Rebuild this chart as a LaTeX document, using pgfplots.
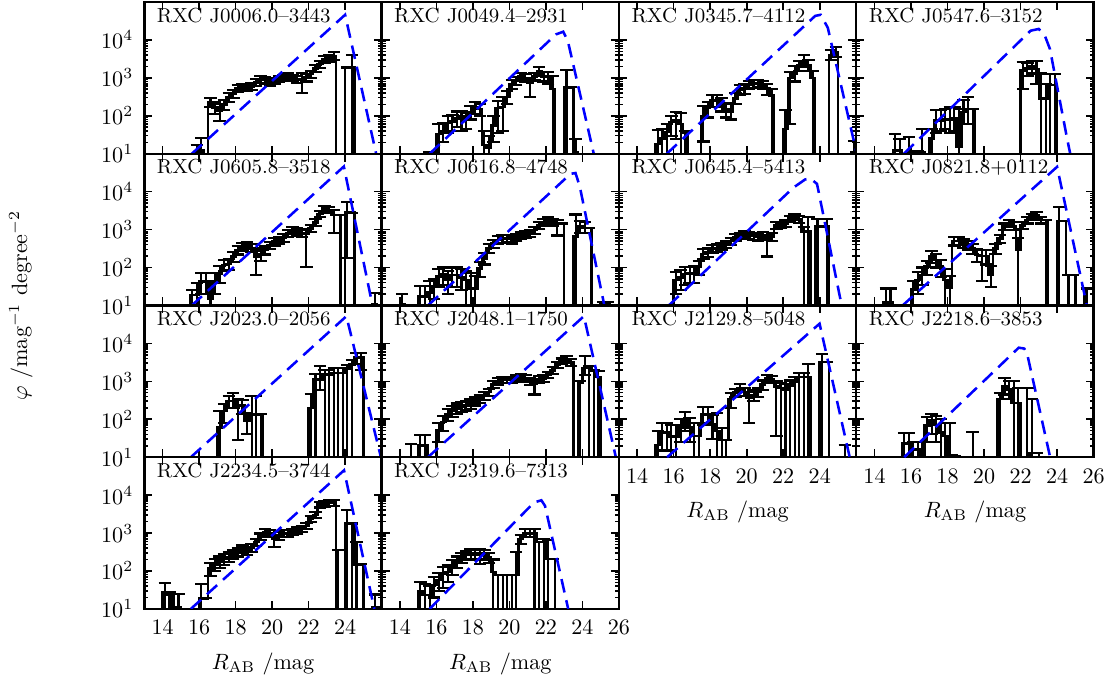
\documentclass[border=0pt]{standalone}
\usepackage{fontspec}
\usepackage{pgfplots}
\pgfplotsset{compat=1.18}
\usepackage{pgfplotstable}
\usepgfplotslibrary{groupplots}

% columns: e = bin left edge, y = value (1 = empty bin), lo/hi = error bar ends
\pgfplotstableread{
e y lo hi
15.50 1 1 1
15.75 11 9.5 17
16.00 12 9.5 26
16.25 1 1 1
16.50 228 170 300
16.75 165 110 230
17.00 135 72 200
17.25 200 140 260
17.50 310 230 400
17.75 375 290 470
18.00 530 420 650
18.25 600 480 700
18.50 560 440 680
18.75 600 480 720
19.00 760 600 920
19.25 930 750 1100
19.50 870 700 1050
19.75 760 600 920
20.00 840 680 1000
20.25 930 760 1100
20.50 1020 830 1220
20.75 1100 900 1300
21.00 1000 820 1200
21.25 930 750 1120
21.50 870 400 1330
21.75 1020 800 1250
22.00 1250 1000 1500
22.25 1780 1400 2150
22.50 2300 1850 2800
22.75 3100 2500 3700
23.00 3400 2700 4100
23.25 3800 3000 4850
23.50 1 1 1
24.00 1880 1880 1880
24.25 1880 9.5 4000
24.50 1 1 1
24.75 1 1 1
}\tA
\pgfplotstableread{
e y lo hi
15.25 1 1 1
15.50 10.5 9.5 11
15.75 1 1 1
16.00 33 9.5 61
16.25 40 20 65
16.50 65 35 100
16.75 70 40 105
17.00 85 50 130
17.25 100 40 135
17.50 85 45 120
17.75 125 80 180
18.00 165 110 230
18.25 150 100 210
18.50 17 9.5 40
18.75 14 9.5 30
19.00 55 20 100
19.25 160 35 250
19.50 170 40 310
19.75 310 200 450
20.00 690 520 900
20.25 840 650 1050
20.50 1100 880 1350
20.75 1000 780 1250
21.00 730 310 1000
21.25 1100 850 1350
21.50 1450 1150 1900
21.75 1100 800 1400
22.00 1100 700 1400
22.25 510 9.5 1100
22.50 1 1 1
23.00 560 9.5 1650
23.25 560 560 560
23.50 11 9.5 25
23.75 1 1 1
24.00 1 1 1
}\tB
\pgfplotstableread{
e y lo hi
14.75 1 1 1
15.00 18 9.5 43
15.25 25 9.5 45
15.50 37 9.5 60
15.75 68 30 100
16.00 75 25 125
16.25 60 9.5 120
16.50 35 9.5 40
16.75 1 1 1
17.50 100 21 180
17.75 160 90 230
18.00 250 170 350
18.25 250 170 350
18.50 200 130 290
18.75 150 90 220
19.00 130 80 200
19.25 290 200 390
19.50 500 350 650
19.75 520 380 680
20.00 650 500 820
20.25 700 540 880
20.50 730 560 900
20.75 650 500 820
21.00 520 350 700
21.25 340 9.5 500
21.50 1 1 1
22.00 45 9.5 140
22.25 1000 60 1400
22.50 1250 800 2100
22.75 2100 1500 2800
23.00 2600 1900 4000
23.25 2200 1500 3000
23.50 1000 9.5 1550
23.75 1 1 1
24.50 4000 3000 5500
24.75 4800 3500 6500
25.00 1 1 1
25.75 11 9.5 22
26.00 1 1 1
}\tC
\pgfplotstableread{
e y lo hi
14.75 1 1 1
15.00 12 9.5 33
15.25 12 9.5 25
15.50 1 1 1
15.75 11 9.5 27
16.00 11 9.5 11
16.25 11 9.5 12
16.50 11 9.5 45
16.75 1 1 1
17.00 25 9.5 45
17.25 75 35 145
17.50 75 40 145
17.75 79 45 150
18.00 79 35 167
18.25 85 40 170
18.50 15 9.5 150
18.75 125 60 260
19.00 150 60 310
19.25 150 9.5 150
19.50 1 1 1
22.00 1550 510 2600
22.25 1750 1100 2500
22.50 2000 1300 2800
22.75 1700 700 2800
23.00 290 9.5 1300
23.25 290 9.5 700
23.50 650 9.5 1260
23.75 650 9.5 1260
24.00 1 1 1
24.25 1 1 1
}\tD
\pgfplotstableread{
e y lo hi
15.25 1 1 1
15.50 19 9.5 25
15.75 19 9.5 40
16.00 43 20 70
16.25 43 20 70
16.50 15 9.5 43
16.75 43 20 70
17.00 70 40 110
17.25 117 80 160
17.50 125 85 170
17.75 194 140 250
18.00 290 220 370
18.25 350 270 440
18.50 390 310 480
18.75 330 260 420
19.00 194 64 280
19.25 230 150 320
19.50 290 220 370
19.75 390 300 480
20.00 480 380 600
20.25 520 410 640
20.50 610 480 750
20.75 800 640 980
21.00 970 780 1200
21.25 870 700 1100
21.50 800 640 1000
21.75 800 105 1050
22.00 1070 850 1300
22.25 1550 1250 1900
22.50 2600 2100 3100
22.75 3600 2900 4200
23.00 3300 2700 4000
23.25 2400 800 3200
23.50 2400 2400 2400
23.75 1 1 1
24.00 2800 180 5400
24.25 2800 2800 2800
24.50 1 1 1
25.50 11 9.5 21
25.75 1 1 1
}\tE
\pgfplotstableread{
e y lo hi
13.75 1 1 1
14.00 11 9.5 20
14.25 1 1 1
15.00 17 9.5 33
15.25 17 9.5 33
15.50 22 9.5 43
15.75 32 15 50
16.00 58 30 90
16.25 68 35 100
16.50 47 20 80
16.75 64 30 100
17.00 64 30 100
17.25 55 25 90
17.50 47 9.5 80
17.75 28 9.5 70
18.00 28 9.5 60
18.25 95 55 140
18.50 175 120 240
18.75 320 240 410
19.00 430 330 540
19.25 530 420 660
19.50 580 450 720
19.75 600 480 730
20.00 560 430 700
20.25 620 490 760
20.50 700 560 850
20.75 750 600 920
21.00 800 640 980
21.25 970 780 1180
21.50 1300 1050 1550
21.75 1550 1250 1850
22.00 1780 1450 2100
22.25 1550 1250 1850
22.50 1450 700 1800
22.75 1450 1450 1450
23.00 1 1 1
23.50 650 9.5 2500
23.75 1200 800 1700
24.00 1100 800 1600
24.25 1100 1100 1100
24.50 1 1 1
25.00 11 9.5 12
25.25 11 9.5 12
25.50 1 1 1
}\tF
\pgfplotstableread{
e y lo hi
15.75 1 1 1
16.00 47 20 75
16.25 55 25 85
16.50 68 35 105
16.75 70 40 105
17.00 72 40 110
17.25 105 65 150
17.50 230 170 300
17.75 250 190 320
18.00 310 240 390
18.25 330 260 410
18.50 360 290 440
18.75 400 320 490
19.00 500 400 610
19.25 620 500 750
19.50 690 560 830
19.75 750 610 900
20.00 700 570 850
20.25 670 540 810
20.50 640 510 780
20.75 700 570 850
21.00 530 195 720
21.25 650 500 800
21.50 1300 1050 1550
21.75 1350 1100 1600
22.00 1450 1150 1750
22.25 1950 1600 2300
22.50 2200 1800 2600
22.75 1900 1500 2300
23.00 880 9.5 1200
23.25 880 9.5 2200
23.50 1 1 1
23.75 1200 9.5 1900
24.00 1200 1200 1200
24.25 1200 9.5 1900
24.50 1 1 1
}\tG
\pgfplotstableread{
e y lo hi
14.25 1 1 1
14.50 12 9.5 28
14.75 12 9.5 28
15.00 1 1 1
16.00 26 9.5 45
16.25 47 20 75
16.50 64 35 100
16.75 105 65 150
17.00 195 135 270
17.25 158 100 230
17.50 105 55 160
17.75 47 9.5 90
18.00 30 9.5 60
18.25 500 380 640
18.50 500 390 630
18.75 430 330 550
19.00 380 290 490
19.25 320 230 420
19.50 215 140 300
19.75 200 44 290
20.00 200 120 290
20.25 66 30 110
20.50 320 230 420
20.75 580 450 720
21.00 1200 950 1450
21.25 1450 1150 1750
21.50 1260 1000 1550
21.75 290 9.5 600
22.00 1300 1050 1600
22.25 1780 1450 2150
22.50 2200 1800 2600
22.75 2400 1950 2850
23.00 1780 1450 2150
23.25 1780 9.5 1780
23.50 1 1 1
24.00 1700 9.5 4000
24.25 1700 1700 1700
24.50 64 9.5 64
24.75 64 64 64
25.00 1 1 1
25.50 28 9.5 28
25.75 28 28 28
26.00 1 1 1
}\tH
\pgfplotstableread{
e y lo hi
16.75 1 1 1
17.00 60 9.5 165
17.25 165 80 250
17.50 300 200 400
17.75 300 200 480
18.00 230 28 350
18.25 230 140 330
18.50 90 40 150
18.75 135 9.5 410
19.00 135 9.5 410
19.25 135 9.5 135
19.50 1 1 1
22.00 200 9.5 470
22.25 1100 9.5 1600
22.50 1100 600 2600
22.75 1500 9.5 2000
23.00 1500 9.5 2000
23.25 1670 9.5 2200
23.50 1670 9.5 2200
23.75 1670 9.5 2200
24.00 2100 9.5 2700
24.25 2800 9.5 3600
24.50 4300 2800 5600
24.75 4300 2000 5600
25.00 1 1 1
}\tI
\pgfplotstableread{
e y lo hi
14.50 6 5.5 22
14.75 1 1 1
15.00 20 9.5 38
15.25 20 9.5 38
15.50 1 1 1
16.00 51 25 80
16.25 85 50 125
16.50 135 90 190
16.75 165 115 225
17.00 190 135 260
17.25 215 155 290
17.50 230 170 300
17.75 260 190 340
18.00 300 230 380
18.25 345 270 430
18.50 410 320 510
18.75 520 410 640
19.00 820 660 1000
19.25 1000 800 1220
19.50 1100 900 1330
19.75 1100 900 1330
20.00 1100 900 1330
20.25 1200 980 1450
20.50 1350 1100 1600
20.75 1200 980 1450
21.00 1000 800 1220
21.25 880 450 1100
21.50 1100 880 1350
21.75 1200 950 1450
22.00 1500 1200 1800
22.25 1950 1600 2350
22.50 2800 2300 3300
22.75 3400 2800 4000
23.00 3900 3200 4600
23.25 3100 2500 3800
23.50 1 1 1
23.75 910 9.5 1000
24.00 2250 1500 4600
24.25 2250 9.5 2500
24.50 1850 9.5 2000
24.75 1300 9.5 1850
25.00 1 1 1
}\tJ
\pgfplotstableread{
e y lo hi
14.75 1 1 1
15.00 21 9.5 49
15.25 44 15 81
15.50 44 15 81
15.75 35 9.5 70
16.00 35 9.5 70
16.25 60 25 100
16.50 95 50 158
16.75 60 25 110
17.00 36 9.5 80
17.25 36 9.5 80
17.50 135 70 215
17.75 135 70 215
18.00 73 30 130
18.25 49 9.5 150
18.50 28 9.5 60
18.75 28 9.5 28
19.00 345 200 500
19.25 500 380 640
19.50 670 520 830
19.75 520 400 660
20.00 380 78 520
20.25 430 300 580
20.50 520 380 680
20.75 820 600 1050
21.00 1200 950 1450
21.25 1100 880 1350
21.50 720 36 1000
21.75 670 9.5 900
22.00 610 9.5 850
22.25 780 9.5 1050
22.50 950 9.5 1300
22.75 1300 9.5 1700
23.00 1300 9.5 1700
23.25 1300 9.5 2800
23.50 1 1 1
24.00 3200 9.5 5300
24.25 3200 3200 3200
24.50 1 1 1
25.25 6 5.5 21
25.50 1 1 1
}\tK
\pgfplotstableread{
e y lo hi
15.25 1 1 1
15.50 23 9.5 44
15.75 23 9.5 44
16.00 16 9.5 25
16.25 16 9.5 25
16.50 11 9.5 25
16.75 69 25 117
17.00 95 40 140
17.25 70 25 120
17.50 45 9.5 100
17.75 36 9.5 80
18.00 11 9.5 78
18.25 11 9.5 11
18.50 1 1 1
19.25 6 5.5 46
19.50 1 1 1
20.75 345 9.5 500
21.00 720 450 1200
21.25 600 350 1000
21.50 270 9.5 1000
21.75 270 9.5 670
22.00 1 1 1
22.25 6 5.5 670
22.50 13 9.5 345
22.75 13 13 13
23.00 1 1 1
}\tL
\pgfplotstableread{
e y lo hi
13.75 1 1 1
14.00 28 9.5 47
14.25 23 9.5 28
14.50 11 9.5 25
14.75 11 9.5 25
15.00 1 1 1
16.00 19 9.5 45
16.25 19 19 19
16.50 117 75 160
16.75 150 100 210
17.00 175 120 240
17.25 205 145 280
17.50 235 170 310
17.75 280 210 360
18.00 320 240 410
18.25 375 290 470
18.50 350 270 440
18.75 410 320 510
19.00 580 460 710
19.25 800 650 970
19.50 1070 870 1300
19.75 1000 800 1220
20.00 690 430 900
20.25 840 650 1050
20.50 970 780 1180
20.75 1000 800 1220
21.00 1070 870 1300
21.25 1200 960 1450
21.50 1300 1050 1550
21.75 1550 1250 1850
22.00 2400 1950 2850
22.25 3000 2500 3600
22.50 5600 4700 6600
22.75 5900 5000 6900
23.00 6300 5300 7300
23.25 6300 5300 7300
23.50 6 5.5 355
23.75 1 1 1
24.00 1780 9.5 4000
24.25 1780 9.5 1780
24.50 150 9.5 580
24.75 150 150 150
25.00 1 1 1
25.50 11 9.5 24
25.75 11 11 11
26.00 1 1 1
}\tM
\pgfplotstableread{
e y lo hi
14.75 1 1 1
15.00 30 9.5 50
15.25 23 9.5 45
15.50 23 9.5 40
15.75 43 20 70
16.00 58 30 90
16.25 83 35 125
16.50 95 50 140
16.75 130 80 190
17.00 175 120 240
17.25 230 160 300
17.50 260 190 340
17.75 290 210 370
18.00 270 200 350
18.25 290 150 370
18.50 270 200 350
18.75 230 160 300
19.00 95 9.5 200
19.25 78 9.5 78
19.50 78 9.5 78
19.75 78 9.5 78
20.00 78 9.5 78
20.25 78 9.5 320
20.50 690 500 900
20.75 970 780 1250
21.00 1000 800 1250
21.25 970 9.5 1300
21.50 580 9.5 580
21.75 580 9.5 700
22.00 205 9.5 650
22.25 205 205 205
22.50 1 1 1
}\tN

\pgfplotsset{
  xl/.style={xticklabels={14,16,18,20,22,24}, xlabel={$R_{\mathrm{AB}}$ /mag}},
  xlf/.style={xticklabels={14,16,18,20,22,24,26}, xlabel={$R_{\mathrm{AB}}$ /mag}},
  yl/.style={yticklabels={$10^{1}$,$10^{2}$,$10^{3}$,$10^{4}$}},
}

\newcommand{\panel}[3]{%
  \addplot[const plot, black, line width=1.15pt] table[x=e, y=y] {#1};
  \addplot[draw=none, mark=none,
    restrict expr to domain={\thisrow{y}}{5:20000},
    error bars/.cd, y dir=both, y explicit,
    error bar style={draw=black, solid, line width=0.95pt},
    error mark options={rotate=90, draw=black, solid, mark size=2.8pt, line width=0.95pt}]
    table[x expr=\thisrow{e}+0.125, y=y,
      y error plus expr=\thisrow{hi}-\thisrow{y},
      y error minus expr=\thisrow{y}-\thisrow{lo}] {#1};
  \addplot[blue, line width=1.15pt, dash pattern=on 6.2pt off 3.6pt] coordinates {#2};
  \node[anchor=north west, inner sep=0pt, font=\fontsize{9.2}{11}\selectfont] at ([xshift=5.5pt,yshift=-2.4pt]rel axis cs:0,1) {#3};
}

\begin{document}
\begin{tikzpicture}
\begin{groupplot}[
  group style={group size=4 by 4, horizontal sep=0pt, vertical sep=0pt},
  scale only axis, width=107.3pt, height=68.6pt,
  xmin=13, xmax=26, ymin=10, ymax=1e5, ymode=log,
  xtick={14,16,18,20,22,24,26}, ytick={10,100,1000,10000},
  xticklabels={}, yticklabels={},
  major tick length=3.6pt, minor tick length=1.8pt,
  tick align=inside,
  axis line style={line width=1.1pt},
  every tick/.style={black, line width=0.7pt},
  clip marker paths=true,
  xticklabel style={yshift=-1.5pt},
  yticklabel style={xshift=-1.5pt},
  xlabel style={yshift=-1pt},
]
\nextgroupplot[yl]
\panel{\tA}{(15.6,10) (24.0,46000) (25.7,10)}{RXC J0006.0--3443}
\nextgroupplot
\panel{\tB}{(15.63,10) (22.55,14000) (22.95,16500) (23.2,9400) (24.62,10)}{RXC J0049.4--2931}
\nextgroupplot
\panel{\tC}{(15.62,10) (23.75,43000) (24.05,46000) (24.44,21000) (25.8,30) (26.05,9)}{RXC J0345.7--4112}
\nextgroupplot
\panel{\tD}{(15.61,10) (22.55,17500) (23.0,19500) (23.34,12600) (23.61,5750) (24.55,25) (24.72,10)}{RXC J0547.6--3152}
\nextgroupplot[yl]
\panel{\tE}{(15.6,10) (23.93,46000) (25.5,10)}{RXC J0605.8--3518}
\nextgroupplot
\panel{\tF}{(15.54,10) (23.35,29500) (23.62,31000) (23.85,14000) (25.2,10)}{RXC J0616.8--4748}
\nextgroupplot
\panel{\tG}{(15.73,10) (22.55,12700) (23.2,21000) (23.5,22000) (23.85,16000) (25.2,10)}{RXC J0645.4--5413}
\nextgroupplot
\panel{\tH}{(15.54,10) (24.0,45000) (25.63,10)}{RXC J0821.8+0112}
\nextgroupplot[yl]
\panel{\tI}{(15.55,10) (24.07,52000) (25.96,10)}{RXC J2023.0--2056}
\nextgroupplot
\panel{\tJ}{(15.54,10) (24.08,52000) (25.83,10)}{RXC J2048.1--1750}
\nextgroupplot[xl]
\panel{\tK}{(15.64,10) (23.99,33000) (25.64,10)}{RXC J2129.8--5048}
\nextgroupplot[xlf]
\panel{\tL}{(15.63,10) (21.9,7700) (22.2,7300) (22.35,5600) (23.62,10)}{RXC J2218.6--3853}
\nextgroupplot[yl,xl]
\panel{\tM}{(15.55,10) (23.94,45000) (25.6,10)}{RXC J2234.5--3744}
\nextgroupplot[xlf]
\panel{\tN}{(15.63,10) (21.35,6400) (21.75,7300) (21.95,5200) (23.22,10)}{RXC J2319.6--7313}
\end{groupplot}
\node[rotate=90, inner sep=0pt] at ([xshift=-55.8pt]group c1r2.south west) {$\varphi$ /mag$^{-1}$ degree$^{-2}$};
\path ([xshift=-65.25pt,yshift=0.9pt]group c1r1.north west);
\path ([xshift=5.85pt]group c4r1.north east);
\path ([yshift=-29pt]group c1r4.south west);
\end{tikzpicture}
\end{document}
